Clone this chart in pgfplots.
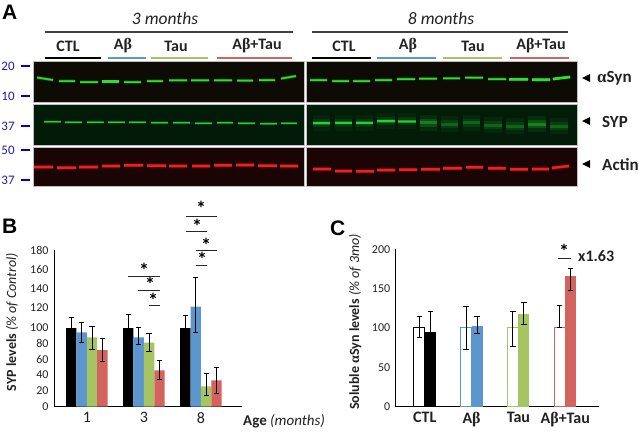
\documentclass[border=0pt]{standalone}
\usepackage{fontspec}
\usepackage{pgfplots}
\usepackage{pgfplotstable}
\pgfplotsset{compat=1.18}
\setmainfont{Carlito}
\newfontfamily\grk{Liberation Serif}
\newfontfamily\letterfont{Liberation Sans}
\definecolor{cblue}{HTML}{5B96CF}
\definecolor{cgreen}{HTML}{A5C563}
\definecolor{cred}{HTML}{D2635F}
\definecolor{lblue}{HTML}{1C1CA8}
\definecolor{txt}{HTML}{222222}
\definecolor{bgreen}{HTML}{2CE02C}
\definecolor{bgreenb}{HTML}{28D038}
\definecolor{bred}{HTML}{F51E1E}
\newcommand{\fs}[1]{\fontsize{#1}{#1}\selectfont}
\newcommand{\ab}{A{\grk\bfseries β}}

% western blot bands, image pixels (x right, y down)
\pgfplotstableread{
x y
37 77.5
53 80
nan nan
59 81
75 81
nan nan
80 82
98 82
nan nan
102 81.5
119 81.5
nan nan
124 82
141 82
nan nan
147 81
163 81
nan nan
169 80.3
187 80.3
nan nan
191 80.3
209 80.3
nan nan
214 80.3
232 80.3
nan nan
237 80.5
253 80.5
nan nan
259 80
275 80
nan nan
281 78.6
296 76
nan nan
310 80
327 80
nan nan
332 81
349 81
nan nan
353 81
370 81
nan nan
375 80
392 80
nan nan
397 79
415 79
nan nan
419 78.7
437 78.7
nan nan
443 78.3
460 78.3
nan nan
465 77.7
483 77.7
nan nan
488 79
506 79
nan nan
509 79.3
528 79.3
nan nan
532 79.7
550 79.7
nan nan
553 79
570 77
}\synbands
\pgfplotstableread{
x y
44 121.7
61 121.7
nan nan
65 122.3
82 122.3
nan nan
87 122.3
104 122.3
nan nan
108 122.3
125 122.3
nan nan
129 122.3
146 122.3
nan nan
151 122.7
168 122.7
nan nan
173 122.7
190 122.7
nan nan
195 123
212 123
nan nan
217 122.7
233 122.7
nan nan
238 123.3
255 123.3
nan nan
260 123.7
277 123.7
nan nan
281 123.3
297 123.3
}\sypleft
\pgfplotstableread{
x y
313 123
330 123
nan nan
335 122.7
352 122.7
nan nan
356 122.7
373 122.7
nan nan
377 121
395 121
nan nan
398 121.3
416 121.3
}\sypright
\pgfplotstableread{
x y
420 122.7
437 122.7
nan nan
528 124
546 124
}\sypmid
\pgfplotstableread{
x y
441 124
458 124
nan nan
463 122.7
480 122.7
nan nan
484 125
502 125
nan nan
506 126
524 126
nan nan
550 126
568 126
}\sypweak
\pgfplotstableread{
x y
34 167
53 167
nan nan
57 167.7
76 167.7
nan nan
79 167
98 167
nan nan
102 166
120 166
nan nan
124 165.3
143 165.3
nan nan
147 165.7
166 165.7
nan nan
169 166
187 166
nan nan
192 166
210 166
nan nan
214 165.3
232 165.3
nan nan
236 165
254 165
nan nan
258 165.7
277 165.7
nan nan
280 166
298 166
nan nan
313 169
331 169
nan nan
335 171
352 171
nan nan
356 171.3
374 171.3
nan nan
377 170
395 170
nan nan
399 169.7
417 169.7
nan nan
421 169.3
440 169.3
nan nan
443 168.3
462 168.3
nan nan
466 167.3
483 167.3
nan nan
488 168.3
506 168.3
nan nan
510 169.3
528 169.3
nan nan
532 169
549 169
nan nan
552 168
569 166
}\actinbands

% #3 core width in pt
\newcommand{\band}[3]{%
  \addplot[#2,line width=#3pt+2pt,opacity=.18] table {#1};
  \addplot[#2,line width=#3pt+.8pt,opacity=.45] table {#1};
  \addplot[#2,line width=#3pt] table {#1};}
\newcommand{\smear}[3]{%
  \addplot[bgreenb,line width=16pt,opacity=#2*.25] table {#1};
  \addplot[bgreenb,line width=8pt,opacity=#2*.5] table {#1};
  \addplot[bgreenb,line width=#3pt,opacity=#2] table {#1};}

\pgfplotsset{
  panel/.style={
    scale only axis, axis lines*=left, axis line style={black,line width=1pt,-},
    major tick length=0pt, ybar=0pt, clip=false,
    /pgf/number format/assume math mode=true,
    tick label style={text=txt},
    yticklabel style={font=\fs{12},xshift=-2pt},
  },
  eb/.style={error bars/.cd, y dir=both, y explicit,
    error bar style={black,line width=1pt},
    error mark options={black,rotate=90,mark size=2.6pt,line width=1pt}},
}

\begin{document}
\begin{tikzpicture}
\useasboundingbox (0pt,0pt) rectangle (640pt,-435pt);

% panel A and all free text, in image pixels
\begin{axis}[at={(0pt,-435pt)},anchor=south west,scale only axis,width=640pt,height=435pt,
  xmin=0,xmax=640,ymin=0,ymax=435,y dir=reverse,hide axis,clip=false,
  unbounded coords=jump,no markers]
\fill[fill={rgb,255:red,14;green,10;blue,4},draw=black!25] (axis cs:33,61) rectangle (axis cs:304,102);
\fill[fill={rgb,255:red,14;green,10;blue,4},draw=black!25] (axis cs:306,61) rectangle (axis cs:577,102);
\fill[fill={rgb,255:red,2;green,26;blue,8},draw=black!25] (axis cs:33,104) rectangle (axis cs:304,145);
\fill[fill={rgb,255:red,2;green,28;blue,8},draw=black!25] (axis cs:306,104) rectangle (axis cs:577,145);
\fill[fill={rgb,255:red,26;green,4;blue,4},draw=black!25] (axis cs:33,147) rectangle (axis cs:304,186);
\fill[fill={rgb,255:red,26;green,4;blue,4},draw=black!25] (axis cs:306,147) rectangle (axis cs:577,186);

\band{\synbands}{bgreen}{1.5}
\addplot[bgreen,line width=2.6pt] coordinates {(102,81.5) (119,81.5)};
\addplot[bgreen,line width=2.6pt] coordinates {(509,79.3) (528,79.3) (nan,nan) (532,79.7) (550,79.7) (nan,nan) (553,79) (570,77)};
\band{\sypleft}{bgreenb}{1}
\smear{\sypright}{.22}{3}
\band{\sypright}{bgreenb}{1.6}
\smear{\sypmid}{.4}{3}
\smear{\sypweak}{.26}{3}
\band{\actinbands}{bred}{2.2}

% marker ladder
\addplot[blue!80!black,line width=2pt] coordinates {(21,66) (30,66) (nan,nan) (21,96) (30,96) (nan,nan) (21,126) (30,126) (nan,nan) (21,150) (30,150) (nan,nan) (21,180) (30,180)};
\node[text=lblue,font=\fs{13}] at (axis cs:8,66) {20};
\node[text=lblue,font=\fs{13}] at (axis cs:8,96) {10};
\node[text=lblue,font=\fs{13}] at (axis cs:8,126) {37};
\node[text=lblue,font=\fs{13}] at (axis cs:8,150) {50};
\node[text=lblue,font=\fs{13}] at (axis cs:8,180) {37};

% header lines
\addplot[black!75,line width=1.2pt] coordinates {(45,32) (293,32) (nan,nan) (312,32) (568,32)};
\addplot[black,line width=2pt] coordinates {(45,57.5) (101,57.5) (nan,nan) (312,57.5) (371,57.5)};
\addplot[cblue,line width=2pt] coordinates {(108,57.5) (146,57.5) (nan,nan) (377,57.5) (436,57.5)};
\addplot[cgreen,line width=2pt] coordinates {(151,57.5) (208,57.5) (nan,nan) (443,57.5) (502,57.5)};
\addplot[cred,line width=2pt] coordinates {(217,57.5) (292,57.5) (nan,nan) (510,57.5) (569,57.5)};

\node[font=\fs{17.5}\itshape,text=txt] at (axis cs:165,18) {3 months};
\node[font=\fs{17.5}\itshape,text=txt] at (axis cs:441,18) {8 months};
\node[font=\fs{16}\bfseries,text=txt] at (axis cs:68,46) {CTL};
\node[font=\fs{16}\bfseries,text=txt] at (axis cs:123,46) {\ab};
\node[font=\fs{16}\bfseries,text=txt] at (axis cs:176,46) {Tau};
\node[font=\fs{16}\bfseries,text=txt] at (axis cs:257,46) {\ab+Tau};
\node[font=\fs{16}\bfseries,text=txt] at (axis cs:344,46) {CTL};
\node[font=\fs{16}\bfseries,text=txt] at (axis cs:408,46) {\ab};
\node[font=\fs{16}\bfseries,text=txt] at (axis cs:473,46) {Tau};
\node[font=\fs{16}\bfseries,text=txt] at (axis cs:541,46) {\ab+Tau};

% protein labels
\node[font=\fs{17}\bfseries,text=txt,anchor=west,inner sep=0pt] at (axis cs:597,78) {{\grk α}Syn};
\node[font=\fs{17}\bfseries,text=txt,anchor=west,inner sep=0pt] at (axis cs:602,122) {SYP};
\node[font=\fs{17}\bfseries,text=txt,anchor=west,inner sep=0pt] at (axis cs:602,165) {Actin};
\fill[black] (axis cs:582,78) -- (axis cs:590,74) -- (axis cs:590,82) -- cycle;
\fill[black] (axis cs:582,121) -- (axis cs:590,117) -- (axis cs:590,125) -- cycle;
\fill[black] (axis cs:582,164) -- (axis cs:590,160) -- (axis cs:590,168) -- cycle;

% panel letters
\node[font=\fs{21}\letterfont\bfseries,anchor=west,inner sep=0pt] at (axis cs:2,12) {A};
\node[font=\fs{21}\letterfont\bfseries,anchor=west,inner sep=0pt] at (axis cs:2,226) {B};
\node[font=\fs{21}\letterfont\bfseries,anchor=west,inner sep=0pt] at (axis cs:330,228) {C};

% axis titles
\node[font=\fs{14},rotate=90,text=txt] at (axis cs:12,322) {\textbf{SYP levels} \textit{(\% of Control)}};
\node[font=\fs{14},rotate=90,text=txt] at (axis cs:355,322) {\textbf{Soluble {\grk α}Syn levels} \textit{(\% of 3mo)}};
\node[font=\fs{15},anchor=west,text=txt,inner sep=0pt] at (axis cs:243,421) {\textbf{Age} \textit{(months)}};

% significance bars
\addplot[black!85,line width=1pt] coordinates {(128,276) (160,276) (nan,nan) (138,290) (160,290) (nan,nan) (149,305) (160,305)
  (nan,nan) (186,216) (217,216) (nan,nan) (186,231) (207,231) (nan,nan) (196,250) (217,250) (nan,nan) (196,265) (207,265)
  (nan,nan) (557.7,258) (570.7,258)};
\node[font=\fs{20}\bfseries,inner sep=0pt] at (axis cs:144,270) {*};
\node[font=\fs{20}\bfseries,inner sep=0pt] at (axis cs:150,284) {*};
\node[font=\fs{20}\bfseries,inner sep=0pt] at (axis cs:153,300) {*};
\node[font=\fs{20}\bfseries,inner sep=0pt] at (axis cs:201,208) {*};
\node[font=\fs{20}\bfseries,inner sep=0pt] at (axis cs:197,226) {*};
\node[font=\fs{20}\bfseries,inner sep=0pt] at (axis cs:206,245) {*};
\node[font=\fs{20}\bfseries,inner sep=0pt] at (axis cs:202,259) {*};
\node[font=\fs{20}\bfseries,inner sep=0pt] at (axis cs:564,251) {*};
\node[font=\fs{16}\bfseries,anchor=west,text=txt,inner sep=0pt] at (axis cs:578,256) {x1.63};
\end{axis}

% panel B
\begin{axis}[panel,at={(54pt,-406.7pt)},anchor=south west,width=188pt,height=156.7pt,
  bar width=10.4pt,
  xmin=-0.575,xmax=2.72,xtick={0,1,2},xticklabels={1,3,8},
  xticklabel style={font=\fs{16},yshift=-2pt},
  ymin=0,ymax=180,ytick={0,20,...,180},yticklabels={0,20,40,60,80,100,120,140,160,180},
  y coord trafo/.code={\pgfmathparse{#1<=100 ? #1 : 100+(#1-100)*1.22}},
]
\addplot[fill=black,draw=none,eb] coordinates {(0,99) += (0,13.2) -= (0,11) (1,99) += (0,16.9) -= (0,13) (2,99) += (0,16.1) -= (0,13)};
\addplot[fill=cblue,draw=none,eb] coordinates {(0,93.7) += (0,12.2) -= (0,12.7) (1,87.4) += (0,12.2) -= (0,8.8) (2,121.4) += (0,36.6) -= (0,33.1)};
\addplot[fill=cgreen,draw=none,eb] coordinates {(0,87.4) += (0,13.8) -= (0,15.4) (1,80.7) += (0,11.3) -= (0,11.7) (2,25.6) += (0,16) -= (0,11.3)};
\addplot[fill=cred,draw=none,eb] coordinates {(0,71.4) += (0,14.3) -= (0,13.8) (1,45.8) += (0,13) -= (0,11.8) (2,33.2) += (0,16.8) -= (0,16.2)};
\end{axis}

% panel C
\begin{axis}[panel,at={(395.7pt,-406.7pt)},anchor=south west,width=203.3pt,height=157.4pt,
  bar width=11pt,
  xmin=-0.62,xmax=3.72,xtick={0,1,2,3},xticklabels={CTL,\ab,Tau,\ab+Tau},
  xticklabel style={font=\fs{16}\bfseries,yshift=-2pt},
  ymin=0,ymax=200,ytick={0,50,100,150,200},
]
\addplot[bar shift=-5.5pt,fill=white,draw=black,line width=1.2pt,eb] coordinates {(0,101) += (0,13) -= (0,13.3)};
\addplot[bar shift=5.5pt,fill=black,draw=none,eb] coordinates {(0,94.5) += (0,27.1) -= (0,27)};
\addplot[bar shift=-5.5pt,fill=white,draw=cblue,line width=1.2pt,eb] coordinates {(1,101) += (0,26) -= (0,28.5)};
\addplot[bar shift=5.5pt,fill=cblue,draw=none,eb] coordinates {(1,102) += (0,12.4) -= (0,9)};
\addplot[bar shift=-5.5pt,fill=white,draw=cgreen,line width=1.2pt,eb] coordinates {(2,101) += (0,20) -= (0,24.3)};
\addplot[bar shift=5.5pt,fill=cgreen,draw=none,eb] coordinates {(2,117.4) += (0,15.6) -= (0,12.7)};
\addplot[bar shift=-5.5pt,fill=white,draw=cred,line width=1.2pt,eb] coordinates {(3,101) += (0,27.4) -= (0,0)};
\addplot[bar shift=5.5pt,fill=cred,draw=none,eb] coordinates {(3,166) += (0,9) -= (0,18)};
\end{axis}
\end{tikzpicture}
\end{document}
